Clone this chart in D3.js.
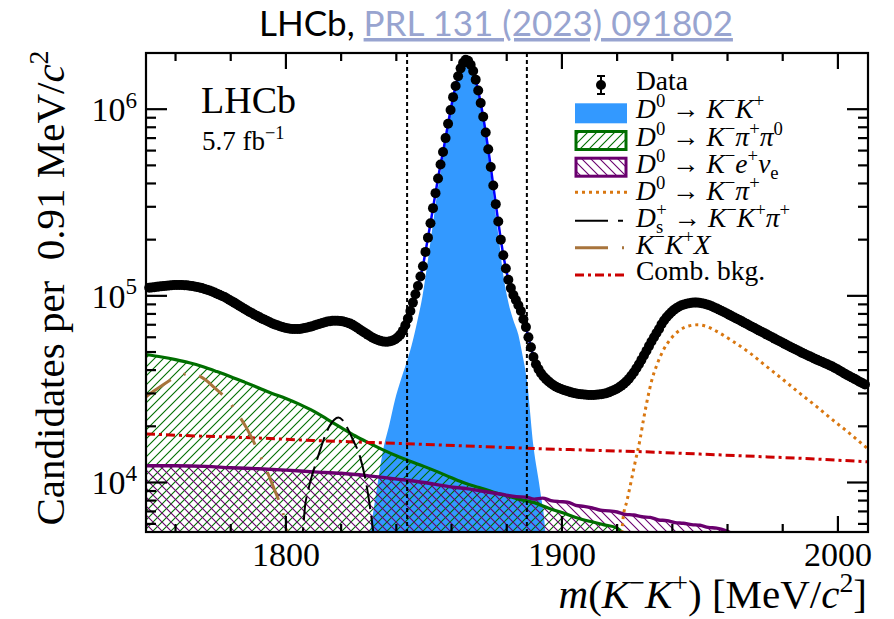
<!DOCTYPE html>
<html><head><meta charset="utf-8">
<script src="https://cdn.jsdelivr.net/npm/d3@7"></script>
<style>
html,body{margin:0;padding:0;background:#fff;}
</style></head>
<body><svg id="c" width="894" height="619"></svg>
<script>
// ---------------- data ----------------
const binStart = 1750, binWidth = 0.91;   // MeV/c^2
const unit = 1000;                        // all values below in thousands of candidates
const dataK = [
110.5,110.9,111.3,111.7,112.1,112.5,112.9,113.3,113.7,114.0,
114.3,114.4,114.4,114.3,114.1,113.8,113.3,112.8,112.2,111.6,
111.0,110.0,108.9,107.8,106.7,105.5,104.1,102.7,101.3,99.9,
98.5,96.8,95.1,93.4,91.7,90.0,88.3,86.6,85.0,83.5,
82.0,80.6,79.2,77.9,76.7,75.5,74.4,73.3,72.2,71.2,
70.3,69.5,68.8,68.1,67.5,67.0,66.7,66.5,66.4,66.4,
66.5,66.8,67.2,67.7,68.2,68.8,69.5,70.2,70.9,71.6,
72.3,72.8,73.2,73.5,73.6,73.6,73.4,73.0,72.4,71.8,
71.0,69.9,68.6,67.2,65.8,64.5,63.2,62.0,60.8,59.7,
58.8,58.0,57.4,57.0,56.8,56.8,57.1,57.7,58.6,60.0,
62.0,65.0,69.5,75.5,83,92,102,113,127,144,
172,205,245,295,355,425,505,590,700,835,
990,1160,1330,1500,1655,1775,1840,1815,1730,1600,
1440,1260,1080,910,750,610,490,390,310,250,
200,165,140,122,110,101,95,89,83,75,
68,60,53,47,43,40.5,38.5,37,35.8,34.8,
33.9,33.2,32.6,32.1,31.7,31.3,31.0,30.7,30.4,30.2,
30.0,29.8,29.7,29.6,29.5,29.4,29.4,29.4,29.5,29.6,
29.7,29.9,30.1,30.4,30.8,31.2,31.7,32.3,33.0,33.8,
34.8,36.0,37.4,39.0,40.9,43.0,45.4,48.0,50.8,53.8,
56.9,60.0,63.2,66.4,70.5,73.8,76.8,79.5,82.0,84.2,
86.1,87.7,89.0,90.0,90.8,91.4,91.8,92.0,92.0,91.8,
91.4,90.8,90.0,89.0,87.9,86.7,85.5,84.3,83.0,81.7,
80.4,79.1,77.8,76.6,75.4,74.2,73.0,71.8,70.6,69.4,
68.3,67.2,66.1,65.0,64.0,63.0,62.0,61.0,60.0,59.0,
58.0,57.1,56.2,55.3,54.4,53.5,52.7,51.9,51.1,50.3,
49.5,48.8,48.1,47.4,46.7,46.0,45.4,44.8,44.2,43.6,
43.0,42.4,41.8,41.1,40.4,39.7,39.0,38.3,37.6,37.0,
36.4,35.8,35.2,34.6,34.0,33.5];

// D0 -> K- K+ signal
const signalMass = [1829.5,1830.5,1832,1833.5,1835.2,1837.5,1839.5,1841.5,1843.5,1845.5,1847.5,1849.5,1851.5,1853.3,1855.1,1856.9,1858.7,1860.6,1862.4,1864.2,1865.2,1866.0,1867.8,1869.7,1871.5,1873.3,1875.1,1877.0,1878.8,1880.6,1882.4,1884.2,1885.5,1887.3,1889.7,1892.1,1894.0,1895.0];
const signalK    = [4.0,5.4,7.5,10.5,14.9,20.5,27.7,35,43,54,72,100,158,245,380,545,795,1125,1465,1735,1800,1775,1565,1220,870,570,350,210,128,92,74,62,50,35.5,15.6,9.1,5.4,3.0];
// D0 -> K- pi+ pi0
const kpipi0Mass = [1749.3,1755,1760,1765,1770,1775,1780,1785,1790,1795,1800,1805,1810,1815,1820,1825,1830,1835,1840,1845,1850,1855,1860,1865,1870,1875,1880,1885,1890,1895,1900,1905,1910,1915,1920,1922,1924];
const kpipi0K    = [48.5,47.0,45.5,43.8,41.7,39.3,36.9,34.5,32.2,30.0,28.2,26.2,24.1,21.8,19.7,17.8,16.3,15.0,13.9,13.0,12.2,11.4,10.6,9.9,9.4,8.9,8.5,8.1,7.8,7.3,6.9,6.5,6.2,5.95,5.7,5.3,3.0];
// D0 -> K- e+ nu
const kenuMass = [1749.3,1760,1771,1780,1790,1800,1810,1820,1830,1841,1850,1859,1866,1872,1878,1883.5,1887,1890,1893,1896,1899,1902,1905,1908,1911,1914,1917,1920,1923,1926,1929,1932,1935,1938,1941,1944,1947,1950,1953,1956,1959,1961.5,1963];
const kenuK    = [12.3,12.3,12.2,12.0,11.85,11.65,11.4,11.2,10.85,10.4,10.0,9.5,9.25,8.95,8.65,8.4,8.35,8.15,8.25,8.0,7.9,7.85,7.55,7.45,7.3,7.1,7.05,6.95,6.75,6.7,6.55,6.5,6.3,6.25,6.1,6.05,5.95,5.9,5.75,5.7,5.55,5.3,4.5];
// D0 -> K- pi+ (misidentified)
const kpiMass = [1921.3,1922.2,1923.5,1925.3,1926.5,1928.3,1929.5,1931,1932.5,1934.5,1936.7,1939.5,1942.7,1946,1949.4,1952.5,1956.1,1962,1968.2,1974,1980.2,1986,1992.3,1998,2004.1,2010.9];
const kpiK    = [4.5,6.5,7.9,10.5,12.8,17,21.5,28,35,43,51,59,65.5,69,70,68.5,64.5,57,49.3,42,35.5,30.2,25.5,21.7,18.4,15.1];
// Ds+ -> K- K+ pi+
const dsMass = [1805,1806.2,1806.9,1808,1809.3,1811,1812.4,1814,1816,1817.5,1819,1820.5,1822,1824.3,1826.8,1829.3,1831.1,1832.5];
const dsK    = [4.3,5.6,7.4,9.0,10.7,12.9,14.9,17.5,20.3,21.7,22.3,21.6,19.9,16.9,13.8,9.5,6.3,4.3];
// K- K+ X
const kkxMass = [1749.3,1752,1755,1758.6,1762,1765,1768,1770.7,1774,1778.8,1782.4,1785.8,1790.6,1795.4,1799.1,1801.5];
const kkxK    = [28.8,30.8,33,35.7,37.6,38.4,37.6,35.6,32.3,27.7,23.5,19.5,14.0,9.5,6.7,4.6];
// combinatorial background
const combMass = [1749.3,1770,1790,1810,1830,1850,1870,1890,1910,1930,1950,1970,1990,2010.9];
const combK    = [18.2,17.7,17.3,16.8,16.4,16.0,15.6,15.2,14.9,14.6,14.2,13.8,13.4,12.9];
// signal window
const windowEdges = [1843.9, 1887.3];
// axes
const xDomain = [1749.3, 2010.9];
const yDomain = [5430, 2.0e6];
const xMajorTicks = [1800, 1900, 2000];
const xMinorTicks = [1760,1780,1820,1840,1860,1880,1920,1940,1960,1980];
const yMajorTicks = [1e4, 1e5, 1e6];
const yMajorExp = ["4","5","6"];
const yMinorTicks = [6e3,7e3,8e3,9e3,2e4,3e4,4e4,5e4,6e4,7e4,8e4,9e4,2e5,3e5,4e5,5e5,6e5,7e5,8e5,9e5];

// ---------------- drawing ----------------
const L = 146, R = 868, T = 53, B = 532;
const svg = d3.select('#c');
const x = d3.scaleLinear().domain(xDomain).range([L, R]);
const y = d3.scaleLog().domain(yDomain).range([B, T]);
const SERIF = "'Liberation Serif'";

const defs = svg.append('defs');
defs.append('clipPath').attr('id','plotClip').append('rect').attr('x',L).attr('y',T).attr('width',R-L).attr('height',B-T);
function hatch(id, color, dir){
  const p = defs.append('pattern').attr('id',id).attr('patternUnits','userSpaceOnUse').attr('width',9).attr('height',9);
  const d = dir==='/' ? 'M0,9 L9,0 M-2,2 L2,-2 M7,11 L11,7' : 'M0,0 L9,9 M-2,7 L2,11 M7,-2 L11,2';
  p.append('path').attr('d',d).attr('stroke',color).attr('stroke-width',1.1).attr('fill','none');
}
const GREEN = '#006e00', PURPLE = '#6a006e', BLUE = '#3399ff', ORANGE = '#d97710', RED = '#cc0000', BROWN = '#a8743c';
hatch('hGreen', GREEN, '/');
hatch('hPurple', PURPLE, '\\');

const zip = (ms, vs) => ms.map((m,i)=>({m, v: vs[i]*unit}));
const signal = zip(signalMass, signalK), kpipi0 = zip(kpipi0Mass, kpipi0K), kenu = zip(kenuMass, kenuK);
const kpi = zip(kpiMass, kpiK), ds = zip(dsMass, dsK), kkx = zip(kkxMass, kkxK), comb = zip(combMass, combK);
const data = dataK.map((v,i)=>({m: binStart + binWidth*(i+0.5), v: v*unit}));

const area = d3.area().x(d=>x(d.m)).y0(B+5).y1(d=>y(d.v)).curve(d3.curveMonotoneX);
const line = d3.line().x(d=>x(d.m)).y(d=>y(d.v)).curve(d3.curveMonotoneX);

const plot = svg.append('g').attr('clip-path','url(#plotClip)');
plot.append('path').attr('d', area(signal)).attr('fill', BLUE);
plot.append('path').attr('d', area(kpipi0)).attr('fill', 'url(#hGreen)');
plot.append('path').attr('d', area(kenu)).attr('fill', 'url(#hPurple)');
plot.append('path').attr('d', line(kpipi0)).attr('fill','none').attr('stroke',GREEN).attr('stroke-width',3.2);
plot.append('path').attr('d', line(kenu)).attr('fill','none').attr('stroke',PURPLE).attr('stroke-width',3.4);
plot.append('path').attr('d', line(comb)).attr('fill','none').attr('stroke',RED).attr('stroke-width',3).attr('stroke-dasharray','9,4,3,4');
plot.append('path').attr('d', line(kpi)).attr('fill','none').attr('stroke',ORANGE).attr('stroke-width',3).attr('stroke-dasharray','3,4');
plot.append('path').attr('d', line(kkx)).attr('fill','none').attr('stroke',BROWN).attr('stroke-width',3).attr('stroke-dasharray','30,14,2,14');
plot.append('path').attr('d', line(ds)).attr('fill','none').attr('stroke','#000').attr('stroke-width',2).attr('stroke-dasharray','24,7');
// signal window
plot.selectAll('line.win').data(windowEdges).enter().append('line')
  .attr('x1',d=>x(d)).attr('x2',d=>x(d)).attr('y1',T).attr('y2',B)
  .attr('stroke','#000').attr('stroke-width',2).attr('stroke-dasharray','4,3');
// total fit (blue)
plot.append('path').attr('d', d3.line().x(d=>x(d.m)).y(d=>y(d.v))(data)).attr('fill','none').attr('stroke','#0000ff').attr('stroke-width',2.5);
// data points
svg.append('g').selectAll('circle').data(data).enter().append('circle')
  .attr('cx',d=>x(d.m)).attr('cy',d=>y(d.v)).attr('r',5).attr('fill','#000');

// frame + ticks
const ax = svg.append('g').attr('stroke','#000').attr('stroke-width',2.2);
ax.append('rect').attr('x',L).attr('y',T).attr('width',R-L).attr('height',B-T).attr('fill','none');
xMajorTicks.forEach(t=>{ax.append('line').attr('x1',x(t)).attr('x2',x(t)).attr('y1',B).attr('y2',B-16);
  ax.append('line').attr('x1',x(t)).attr('x2',x(t)).attr('y1',T).attr('y2',T+16);});
xMinorTicks.forEach(t=>{ax.append('line').attr('x1',x(t)).attr('x2',x(t)).attr('y1',B).attr('y2',B-8);
  ax.append('line').attr('x1',x(t)).attr('x2',x(t)).attr('y1',T).attr('y2',T+8);});
yMajorTicks.forEach(t=>{ax.append('line').attr('x1',L).attr('x2',L+21).attr('y1',y(t)).attr('y2',y(t));
  ax.append('line').attr('x1',R).attr('x2',R-21).attr('y1',y(t)).attr('y2',y(t));});
yMinorTicks.forEach(t=>{ax.append('line').attr('x1',L).attr('x2',L+10).attr('y1',y(t)).attr('y2',y(t));
  ax.append('line').attr('x1',R).attr('x2',R-10).attr('y1',y(t)).attr('y2',y(t));});

// rich text helper
function rich(parent, px, py, segs, size, anchor){
  const t = parent.append('text').attr('x',px).attr('y',py).attr('font-family',SERIF)
    .attr('font-size',size).attr('text-anchor',anchor||'start').attr('fill','#000')
    .attr('style','white-space:pre');
  let cur = 0;
  segs.forEach(s=>{
    const o = s[1]||{};
    const sz = (o.sup||o.sub) ? size*0.68 : size;
    const target = o.sup ? -size*0.4 : (o.sub ? size*0.22 : 0);
    const ts = t.append('tspan').text(s[0]).attr('dy', target-cur).attr('font-size', sz);
    if (o.i) ts.attr('font-style','italic');
    if (o.dx) ts.attr('dx', o.dx);
    cur = target;
  });
  return t;
}

// tick labels
xMajorTicks.forEach(t=>{
  svg.append('text').attr('x',x(t)).attr('y',566).attr('text-anchor','middle').attr('font-family',SERIF)
    .attr('font-size',34).text(d3.format('d')(t));
});
yMajorTicks.forEach((t,i)=>{
  rich(svg, 137, y(t)+12, [["10"],[yMajorExp[i],{sup:true}]], 34, 'end');
});

// axis titles
rich(svg, 867, 608, [["m",{i:true}],["("],["K",{i:true}],["−",{sup:true}],["K",{i:true}],["+",{sup:true}],[") [MeV/"],["c",{i:true}],["2",{sup:true}],["]"]], 41, 'end');
const yl = rich(svg, 0, 0, [["Candidates per  0.91 MeV/"],["c",{i:true}],["2",{sup:true}]], 41, 'middle');
yl.attr('transform','translate(64,288) rotate(-90)');

// LHCb label
svg.append('text').attr('x',201).attr('y',113).attr('font-family',SERIF).attr('font-size',38).text('LHCb');
rich(svg, 202, 150, [["5.7 fb"],["−1",{sup:true}]], 27);

// legend
const lg = svg.append('g');
const symY = [85,113.3,140.5,167.2,192.3,220.7,247.7,275];
const baseY = [90,118.3,145.7,173.3,200,226.7,254.3,280];
const tx = 636;
lg.append('line').attr('x1',601).attr('x2',601).attr('y1',symY[0]-9).attr('y2',symY[0]+9).attr('stroke','#000').attr('stroke-width',2);
lg.append('line').attr('x1',597).attr('x2',605).attr('y1',symY[0]-9).attr('y2',symY[0]-9).attr('stroke','#000').attr('stroke-width',2);
lg.append('line').attr('x1',597).attr('x2',605).attr('y1',symY[0]+9).attr('y2',symY[0]+9).attr('stroke','#000').attr('stroke-width',2);
lg.append('circle').attr('cx',601).attr('cy',symY[0]).attr('r',5).attr('fill','#000');
lg.append('rect').attr('x',575).attr('y',symY[1]-10).attr('width',52).attr('height',20).attr('fill',BLUE);
lg.append('rect').attr('x',576).attr('y',symY[2]-9).attr('width',50).attr('height',18).attr('fill','url(#hGreen)').attr('stroke',GREEN).attr('stroke-width',3);
lg.append('rect').attr('x',576).attr('y',symY[3]-9).attr('width',50).attr('height',18).attr('fill','url(#hPurple)').attr('stroke',PURPLE).attr('stroke-width',3);
lg.append('line').attr('x1',575).attr('x2',627).attr('y1',symY[4]).attr('y2',symY[4]).attr('stroke',ORANGE).attr('stroke-width',3).attr('stroke-dasharray','3,4');
lg.append('line').attr('x1',575).attr('x2',627).attr('y1',symY[5]).attr('y2',symY[5]).attr('stroke','#000').attr('stroke-width',2).attr('stroke-dasharray','33,10,5,10');
lg.append('line').attr('x1',575).attr('x2',627).attr('y1',symY[6]).attr('y2',symY[6]).attr('stroke',BROWN).attr('stroke-width',3).attr('stroke-dasharray','33,14,2,14');
lg.append('line').attr('x1',575).attr('x2',627).attr('y1',symY[7]).attr('y2',symY[7]).attr('stroke',RED).attr('stroke-width',3).attr('stroke-dasharray','9,4,3,4');
const LS = 27.5, arrow = " → ";
const legendTexts = [
  [["Data"]],
  [["D",{i:true}],["0",{sup:true}],[arrow],["K",{i:true}],["−",{sup:true}],["K",{i:true}],["+",{sup:true}]],
  [["D",{i:true}],["0",{sup:true}],[arrow],["K",{i:true}],["−",{sup:true}],["π",{i:true}],["+",{sup:true}],["π",{i:true}],["0",{sup:true}]],
  [["D",{i:true}],["0",{sup:true}],[arrow],["K",{i:true}],["−",{sup:true}],["e",{i:true}],["+",{sup:true}],["ν",{i:true}],["e",{sub:true}]],
  [["D",{i:true}],["0",{sup:true}],[arrow],["K",{i:true}],["−",{sup:true}],["π",{i:true}],["+",{sup:true}]],
  [["D",{i:true}],["s",{sub:true}],["+",{sup:true,dx:-7}],[arrow],["K",{i:true}],["−",{sup:true}],["K",{i:true}],["+",{sup:true}],["π",{i:true}],["+",{sup:true}]],
  [["K",{i:true}],["−",{sup:true}],["K",{i:true}],["+",{sup:true}],["X",{i:true}]],
  [["Comb. bkg."]]
];
legendTexts.forEach((segs,i)=>{ rich(lg, tx, baseY[i], segs, LS); });

// title
const title = svg.append('text').attr('x',259).attr('y',36).attr('font-family',"Lato").attr('font-size',35);
title.append('tspan').text('LHCb, ').attr('fill','#000');
title.append('tspan').text('PRL 131 (2023) 091802').attr('fill','#98a4d0').attr('text-decoration','underline');
</script></body></html>
